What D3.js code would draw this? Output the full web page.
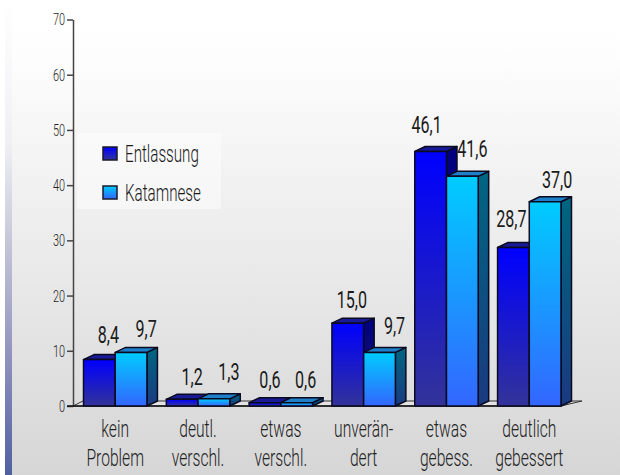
<!DOCTYPE html>
<meta charset="utf-8">
<style>
html, body { margin: 0; padding: 0; background: #fff; }
svg { display: block; }
text { font-family: "Roboto", sans-serif; font-weight: 300; fill: #1a1a1a; }
.axis path, .axis line { stroke: #444; stroke-width: 1.5px; }
.axis text { font-size: 17px; fill: #222; }
.val { font-size: 23px; text-anchor: middle; font-weight: 400; }
.cat { font-size: 23px; text-anchor: middle; fill: #222; }
.leg { font-size: 23px; }
.bar path { stroke: #0a0a20; stroke-width: 1.5px; stroke-linejoin: round; }
</style>
<svg width="620" height="475"></svg>
<script src="https://d3js.org/d3.v7.min.js"></script>
<script>

var categories = ["kein Problem", "deutl. verschl.", "etwas verschl.", "unverän- dert", "etwas gebess.", "deutlich gebessert"];
var catLines = [["kein", "Problem"], ["deutl.", "verschl."], ["etwas", "verschl."], ["unverän-", "dert"], ["etwas", "gebess."], ["deutlich", "gebessert"]];
var series = ["Entlassung", "Katamnese"];
var entlassung = [8.4, 1.2, 0.6, 15.0, 46.1, 28.7];
var katamnese = [9.7, 1.3, 0.6, 9.7, 41.6, 37.0];
var yTicks = [0, 10, 20, 30, 40, 50, 60, 70];

// labels were placed by hand in the original, so nudge them one by one
var nudgeX = [[9, 10, 5, 4, -4, -2], [15, 15, 9, 15, 10, 12]];
var nudgeY = [[-17, -14, -15, -15, -18, -21], [-15, -19, -15, -18, -19, -14]];

var svg = d3.select("svg"),
    width = +svg.attr("width"),
    height = +svg.attr("height");

var dx = 10.5, dy = 5;

var y = d3.scaleLinear().domain([0, 70]).range([406, 19.5]);
var x0 = d3.scaleBand().domain(categories).range([83.5, 561]).paddingInner(0.234);
var x1 = d3.scaleBand().domain(series).range([0, x0.bandwidth()]);

var defs = svg.append("defs");
function grad(id, stops) {
  var g = defs.append("linearGradient").attr("id", id)
      .attr("x1", 0).attr("y1", 0).attr("x2", 0).attr("y2", 1);
  stops.forEach(function(s) {
    g.append("stop").attr("offset", s[0]).attr("stop-color", s[1]);
  });
}
grad("bg", [[0, "#ffffff"], [0.1, "#fefefe"], [1, "#d6d6d6"]]);
grad("strip", [[0, "#ffffff"], [0.3, "#f0f0f4"], [0.5, "#c8c8da"], [0.75, "#8f93bd"], [1, "#4f5fa0"]]);
grad("front0", [[0, "#0000ff"], [1, "#333399"]]);
grad("front1", [[0, "#00ccff"], [1, "#3366ff"]]);
grad("side0", [[0, "#000080"], [1, "#1a1a70"]]);
grad("side1", [[0, "#006680"], [1, "#1a3a80"]]);
var topColors = ["#1a1a99", "#1f7fc8"];

// no condensed font here, so squeeze the text horizontally
function squeezed(parent, cls, px, py, k, str) {
  return parent.append("text").attr("class", cls)
      .attr("transform", "translate(" + px + "," + py + ") scale(" + k + ",1)")
      .text(str);
}

// background
svg.append("rect").attr("x", 5).attr("y", 0).attr("width", 7).attr("height", height).attr("fill", "url(#strip)");
svg.append("rect").attr("x", 12).attr("y", 0).attr("width", width - 12).attr("height", height).attr("fill", "url(#bg)");

// floor
var base = y(0), right = x0.range()[1];
svg.append("path")
    .attr("d", "M73," + base
        + "L" + right + "," + base
        + "L" + (right + 21) + "," + (base - dy)
        + "L83," + (base - dy) + "Z")
    .attr("fill", "#e4e4e4").attr("stroke", "#333").attr("stroke-width", 1);

// legend
var legend = svg.append("g");
legend.append("rect").attr("x", 77).attr("y", 133).attr("width", 144).attr("height", 76)
    .attr("fill", "#fff").attr("fill-opacity", 0.45);
series.forEach(function(s, i) {
  var ly = 147 + i * 39;
  legend.append("rect").attr("x", 103).attr("y", ly).attr("width", 14).attr("height", 13)
      .attr("fill", "url(#front" + i + ")").attr("stroke", "#1a1a2a").attr("stroke-width", 1.5);
  squeezed(legend, "leg", 125, ly + 15, 0.66, s);
});

// axes
var axis = svg.append("g").attr("class", "axis").attr("transform", "translate(73,0)")
    .call(d3.axisLeft(y).tickValues(yTicks).tickSize(6).tickSizeOuter(0).tickPadding(2));
axis.selectAll("text")
    .attr("x", 0)
    .attr("transform", "translate(-8,0) scale(0.64,1)");
svg.append("line").attr("x1", 67).attr("x2", right).attr("y1", base).attr("y2", base)
    .attr("stroke", "#111").attr("stroke-width", 1.5);

// bars
var values = [entlassung, katamnese];
categories.forEach(function(c, ci) {
  series.forEach(function(s, si) {
    var v = values[si][ci],
        l = x0(c) + x1(s),
        r = l + x1.bandwidth(),
        t = y(v);
    var bar = svg.append("g").attr("class", "bar");
    bar.append("path")
        .attr("d", "M" + r + "," + t + "L" + (r + dx) + "," + (t - dy) + "L" + (r + dx) + "," + (base - dy) + "L" + r + "," + base + "Z")
        .attr("fill", "url(#side" + si + ")");
    bar.append("path")
        .attr("d", "M" + l + "," + t + "L" + (l + dx) + "," + (t - dy) + "L" + (r + dx) + "," + (t - dy) + "L" + r + "," + t + "Z")
        .attr("fill", topColors[si]);
    bar.append("path")
        .attr("d", "M" + l + "," + t + "L" + r + "," + t + "L" + r + "," + base + "L" + l + "," + base + "Z")
        .attr("fill", "url(#front" + si + ")");
  });
});

// value labels on top of all bars
series.forEach(function(s, si) {
  values[si].forEach(function(d, i) {
    var cx = x0(categories[i]) + x1(s) + x1.bandwidth() / 2 + nudgeX[si][i];
    squeezed(svg, "val", cx, y(d) + nudgeY[si][i], 0.7, d.toFixed(1).replace(".", ","));
  });
});

// category labels
categories.forEach(function(c, i) {
  catLines[i].forEach(function(line, j) {
    squeezed(svg, "cat", x0(c) + x0.bandwidth() / 2, 437 + j * 28.5, 0.68, line);
  });
});

</script>
